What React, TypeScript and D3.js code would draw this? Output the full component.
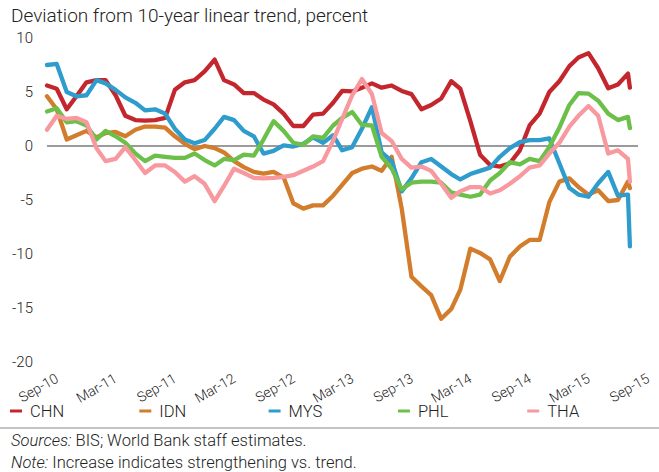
import React from "react";
import * as d3 from "d3";

const seriesNames = ["CHN", "IDN", "MYS", "PHL", "THA"];
const seriesColors = ["#c4262e", "#d27c2c", "#2e9ccc", "#6cc04a", "#f7999f"];

// monthly observations Sep-10 .. Aug-15, plus one latest observation
const monthlyDates = d3.timeMonth.range(new Date(2010, 8, 1), new Date(2015, 8, 1));
const latestDate = new Date(2015, 7, 7);

const CHN = [5.6, 5.3, 3.4, 4.6, 5.9, 6.1, 6.1, 4.7, 2.8, 2.4, 2.35, 2.4, 2.6, 5.2, 5.9, 6.1,
  6.9, 8.0, 6.1, 5.7, 4.9, 4.9, 4.3, 3.85, 3.0, 1.85, 1.85, 2.9, 3.0, 4.0, 5.1, 5.05, 5.4, 5.8,
  5.4, 5.6, 5.1, 4.8, 3.4, 3.8, 4.4, 6.0, 5.3, 2.3, -0.8, -1.75, -1.9, -1.6, -0.4, 1.9, 3.0,
  5.0, 6.0, 7.4, 8.2, 8.6, 7.2, 5.35, 5.7, 6.7, 5.4];
const IDN = [4.6, 3.4, 0.6, 1.0, 1.4, 0.8, 1.2, 1.3, 0.9, 1.5, 1.8, 1.8, 1.7, 0.9, 0.2, -0.3,
  0.0, -0.2, -0.6, -1.4, -1.95, -2.4, -2.55, -2.4, -2.9, -5.3, -5.8, -5.5, -5.5, -4.6, -3.6,
  -2.5, -2.1, -1.9, -2.3, -1.0, -5.8, -12.1, -13.0, -13.8, -16.0, -15.1, -13.3, -9.5, -9.9,
  -10.5, -12.5, -10.25, -9.3, -8.7, -8.7, -5.2, -3.3, -3.0, -3.8, -4.5, -4.1, -5.1, -5.0, -3.3, -3.9];
const MYS = [7.5, 7.6, 5.0, 4.6, 4.7, 6.1, 5.8, 5.2, 4.5, 4.0, 3.3, 3.4, 3.0, 1.6, 0.6, 0.25,
  0.55, 1.6, 2.7, 2.4, 1.4, 0.9, -0.7, -0.45, 0.05, -0.05, 0.2, 0.8, 0.3, 1.0, -0.4, -0.1, 1.6,
  3.6, -0.6, -1.4, -4.2, -3.0, -1.5, -1.2, -1.9, -2.6, -3.1, -2.6, -2.3, -2.0, -1.0, -0.2, 0.35,
  0.55, 0.55, 0.7, -1.6, -3.9, -4.5, -4.7, -3.45, -2.4, -4.6, -4.5, -9.3];
const PHL = [3.2, 3.5, 2.2, 2.3, 1.9, 0.6, 1.4, 0.9, 0.3, -0.7, -1.4, -0.9, -1.0, -1.1, -1.1, -0.7,
  -1.3, -1.8, -1.2, -1.3, -0.8, -0.9, 0.6, 2.3, 1.4, 0.3, 0.1, 0.9, 0.75, 1.9, 2.6, 3.15, 1.95,
  1.9, -1.0, -2.1, -4.0, -3.4, -3.3, -3.3, -3.4, -4.3, -4.5, -4.7, -4.5, -3.2, -2.5, -1.5, -1.7,
  -1.2, -1.4, -0.1, 1.7, 3.8, 4.9, 4.85, 4.2, 3.0, 2.4, 2.7, 1.65];
const THA = [1.5, 2.8, 2.5, 2.6, 2.2, -0.2, -1.4, -1.2, -0.1, -1.3, -2.5, -1.8, -1.8, -2.4, -3.3, -2.8,
  -3.5, -5.1, -3.7, -2.1, -2.5, -2.95, -3.0, -2.95, -2.85, -2.7, -2.3, -1.9, -1.4, 0.5, 2.5, 4.7,
  6.2, 4.8, 1.2, 0.45, -1.2, -2.0, -1.9, -2.3, -3.5, -4.8, -4.2, -3.8, -3.8, -4.4, -4.1, -3.5,
  -2.8, -2.0, -1.8, -0.7, 0.3, 1.8, 2.8, 3.7, 2.8, -0.7, -0.4, -1.2, -3.3];

const seriesValues = [CHN, IDN, MYS, PHL, THA];

const yTicks = [10, 5, 0, -5, -10, -15, -20];
const xTickLabels = ["Sep-10", "Mar-11", "Sep-11", "Mar-12", "Sep-12", "Mar-13", "Sep-13", "Mar-14", "Sep-14", "Mar-15", "Sep-15"];
const xTickDates = d3.timeMonth.range(new Date(2010, 8, 1), new Date(2015, 9, 1), 6);

const titleText = "Deviation from 10-year linear trend, percent";

export default function App() {
  const W = 659, H = 472;
  const font = "Roboto, 'Liberation Sans', Arial, sans-serif";
  const x = d3.scaleTime().domain([new Date(2010, 8, 1), new Date(2015, 8, 1)]).range([47, 638]);
  const y = d3.scaleLinear().domain([-20, 10]).range([362, 38]);
  const dates = [...monthlyDates, latestDate];
  const line = d3.line<number>().x((_, i) => x(dates[i])).y((v) => y(v)).curve(d3.curveLinear);

  return (
    <svg width={W} height={H} style={{ position: "absolute", left: 0, top: 0, background: "#fff" }} fontFamily={font}>
      <text x={11} y={22} fontSize={19} fontWeight={300} fill="#222">{titleText}</text>
      {yTicks.map((t) => (
        <text key={t} x={33} y={y(t)} dy="0.35em" textAnchor="end" fontSize={15} fontWeight={300} fill="#222">{t}</text>
      ))}
      <line x1={47} x2={638} y1={y(0)} y2={y(0)} stroke="#7a7a7a" strokeWidth={1.5} />
      {seriesValues.map((vals, k) => (
        <path key={seriesNames[k]} d={line(vals) || ""} fill="none" stroke={seriesColors[k]} strokeWidth={4.3} strokeLinejoin="round" strokeLinecap="round" />
      ))}
      {xTickDates.map((d, i) => (
        <text key={i} transform={`translate(${x(d) + 10},${377}) rotate(-30)`} textAnchor="end" dy="0.35em" fontSize={14} fontWeight={300} fill="#222">{xTickLabels[i]}</text>
      ))}
      {seriesNames.map((n, k) => (
        <g key={n} transform={`translate(${10 + k * 129.3},411)`}>
          <line x1={0} x2={12} y1={0} y2={0} stroke={seriesColors[k]} strokeWidth={3} />
          <text x={20} y={0} dy="0.35em" fontSize={16.5} fontWeight={300} fill="#222">{n}</text>
        </g>
      ))}
      <line x1={0} x2={W} y1={428} y2={428} stroke="#8a8a8a" strokeWidth={1} />
      <text x={11} y={440} dy="0.35em" fontSize={16.5} fontWeight={300} fill="#222">
        <tspan fontStyle="italic">Sources:</tspan> BIS; World Bank staff estimates.
      </text>
      <text x={11} y={462} dy="0.35em" fontSize={16.5} fontWeight={300} fill="#222">
        <tspan fontStyle="italic">Note:</tspan> Increase indicates strengthening vs. trend.
      </text>
    </svg>
  );
}
